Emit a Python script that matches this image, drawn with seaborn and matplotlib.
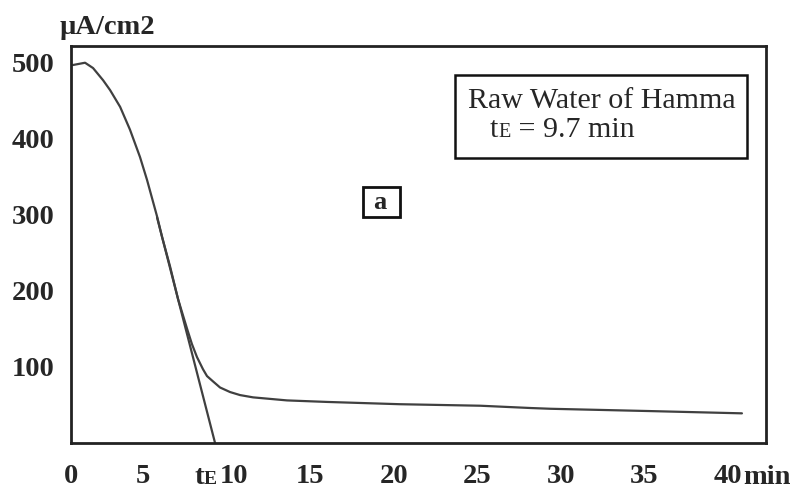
import matplotlib
matplotlib.use("Agg")
import matplotlib.pyplot as plt
import matplotlib.transforms as mtransforms
import seaborn as sns
import pandas as pd
from matplotlib.patches import Rectangle
from matplotlib.text import Annotation

# Current density (µA/cm2) versus time (min) for the raw water of Hamma
time_min = [0.81, 1.53, 2.01, 2.61, 3.03, 3.63, 4.22, 4.82, 5.24, 5.84, 6.14,
            6.62, 7.10, 7.64, 7.93, 8.23, 8.59, 8.83, 9.19, 9.61, 10.21,
            10.81, 11.59, 13.62, 16.01, 20.38, 25.2, 28.2, 29.4, 35.3, 40.85]
current_density = [497, 500, 493, 477, 464, 442, 412, 376, 346, 298, 271,
                   232, 189, 150, 130, 113, 97, 88, 81, 73, 67,
                   63, 60, 56, 54, 51, 49, 46, 45, 42, 39]

# Two points on the steep part of the curve define the tangent
tangent_ref_t = [6.14, 7.10]
tangent_ref_j = [271, 189]
tangent_start_t = 5.84
tE_label = 9.7

x_ticks = [0, 5, 10, 15, 20, 25, 30, 35, 40]
x_tick_labels = ["0", "5", "10", "15", "20", "25", "30", "35", "40"]
y_ticks = [100, 200, 300, 400, 500]
y_tick_labels = ["100", "200", "300", "400", "500"]

sns.set_style("white")
plt.rcParams["font.family"] = ["Liberation Serif", "DejaVu Serif"]

W, H = 801, 491
LINE = "#404040"
fig = plt.figure(figsize=(W / 100, H / 100), dpi=100)
ax = fig.add_axes([71 / W, 1 - 443 / H, (766 - 71) / W, (443 - 46) / H])

x_left, x_right = 0.69, 42.29
ax.set_xlim(x_left, x_right)
ax.set_ylim(0, 522)

df = pd.DataFrame({"t": time_min, "j": current_density})
sns.lineplot(data=df, x="t", y="j", ax=ax, color=LINE, linewidth=1.6,
             sort=False, estimator=None)

# tangent to the steep part, extended down to the time axis
slope = (tangent_ref_j[1] - tangent_ref_j[0]) / (tangent_ref_t[1] - tangent_ref_t[0])
t_root = tangent_ref_t[0] - tangent_ref_j[0] / slope
j_start = tangent_ref_j[0] + slope * (tangent_start_t - tangent_ref_t[0])
tan_df = pd.DataFrame({"t": [tangent_start_t, t_root], "j": [j_start, 0]})
sns.lineplot(data=tan_df, x="t", y="j", ax=ax, color=LINE, linewidth=1.6,
             sort=False, estimator=None)

ax.set_xlabel("")
ax.set_ylabel("")

xt_pos = [x_left if v == 0 else v for v in x_ticks]
ax.set_xticks(xt_pos)
ax.set_xticklabels(x_tick_labels)
ax.set_yticks(y_ticks)
ax.set_yticklabels(y_tick_labels)

ax.tick_params(axis="both", direction="in", length=3, width=1.2,
               color="#666666", labelsize=20.5)
ax.tick_params(axis="x", pad=15)
ax.tick_params(axis="y", pad=12)
for lab in ax.get_xticklabels() + ax.get_yticklabels():
    lab.set_fontweight("bold")

# nudge the "10" label to the right so it clears the tE marker
ten = ax.xaxis.get_major_ticks()[2].label1
ten.set_transform(ten.get_transform() +
                  mtransforms.ScaledTranslation(7 / 100, 0, fig.dpi_scale_trans))

for sp in ax.spines.values():
    sp.set_visible(True)
    sp.set_color("#222222")
    sp.set_linewidth(2.0)

BASE = -41  # baseline of the labels under the time axis, in pixels
x_under = (ax.transData, ax.transAxes)

# unit labels
fig.text(107 / W, 1 - 34 / H, "µA/cm2", ha="center", va="baseline",
         fontsize=20.5, fontweight="bold")
fig.add_artist(Annotation("min", xy=(40, 0), xycoords=x_under,
                          xytext=(16, BASE), textcoords="offset pixels",
                          ha="left", va="baseline", fontsize=20.5,
                          fontweight="bold"))

# tE marker under the axis, right next to where the tangent meets it
e_txt = fig.add_artist(Annotation("E", xy=(t_root, 0), xycoords=x_under,
                                  xytext=(2, BASE), textcoords="offset pixels",
                                  ha="right", va="baseline", fontsize=14,
                                  fontweight="bold"))
fig.add_artist(Annotation("t", xy=(0, 0), xycoords=(e_txt, ax.transAxes),
                          xytext=(0, BASE), textcoords="offset pixels",
                          ha="right", va="baseline", fontsize=20.5,
                          fontweight="bold"))

# info box
ax.add_patch(Rectangle((455 / W, 1 - 158 / H), (747 - 455) / W, (158 - 75) / H,
                       transform=fig.transFigure, fill=False,
                       edgecolor="#111111", linewidth=1.8, zorder=5))
fig.text(468 / W, 1 - 108 / H, "Raw Water of Hamma", ha="left", va="baseline",
         fontsize=21.6)
line2_y = 1 - 137 / H
t2 = fig.text(490 / W, line2_y, "t", ha="left", va="baseline", fontsize=21.6)
e2 = fig.add_artist(Annotation("E", xy=(1, line2_y),
                               xycoords=(t2, fig.transFigure),
                               ha="left", va="baseline", fontsize=14.5))
fig.add_artist(Annotation(f" = {tE_label} min", xy=(1, line2_y),
                          xycoords=(e2, fig.transFigure),
                          ha="left", va="baseline", fontsize=21.6))

# panel letter
ax.add_patch(Rectangle((363 / W, 1 - 217 / H), (400 - 363) / W, (217 - 187) / H,
                       transform=fig.transFigure, fill=False,
                       edgecolor="#111111", linewidth=2.0, zorder=5))
fig.text(380 / W, 1 - 209 / H, "a", ha="center", va="baseline", fontsize=19,
         fontweight="bold")

fig.savefig("out.png", dpi=100)
